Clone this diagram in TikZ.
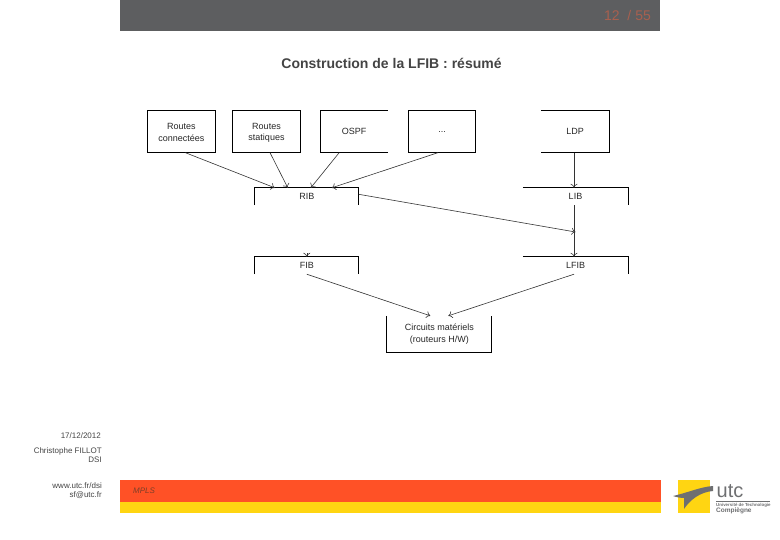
\documentclass[tikz,border=0pt]{standalone}
\usepackage{fontspec}
\setmainfont{Liberation Sans}
\usetikzlibrary{arrows.meta}
\definecolor{barGray}{HTML}{5D5E60}
\definecolor{pageRed}{HTML}{A8604F}
\definecolor{barOrange}{HTML}{FF5126}
\definecolor{barYellow}{HTML}{FFD512}
\definecolor{logoGray}{HTML}{6E6F71}
\definecolor{footGray}{HTML}{444444}
\definecolor{mplsBrown}{HTML}{7E3F28}

\tikzset{
    labelbox/.style={inner sep=0pt, align=center, font=\fontsize{9}{11.5}\selectfont, text=black!85},
    flow/.style={-{To[length=4pt, width=7pt]}, draw=black!80, line width=0.6pt},
    edge/.style={line width=0.9pt},
    foot/.style={anchor=east, inner sep=0pt, font=\fontsize{8}{9}\selectfont, text=footGray}
}

\begin{document}
\begin{tikzpicture}[x=1pt, y=-1pt]
    \useasboundingbox (0,0) rectangle (780,540);

    % Draw the bars
    \fill[barGray] (120,0) rectangle (660,31);
    \fill[barOrange] (120,480) rectangle (661,502);
    \fill[barYellow] (120,502) rectangle (661,513);

    % Place the header and the title
    \node (page) at (627.5,15) [inner sep=0pt, text=pageRed, font=\fontsize{14}{16}\selectfont] {12 \ / 55};
    \node (title) at (391.5,63) [inner sep=0pt, text=footGray, font=\fontsize{14}{16}\selectfont\bfseries] {Construction de la LFIB : résumé};

    % Place the boxes of the upper row
    \node (rconn) at (181.3,131.7) [labelbox, minimum width=68pt, minimum height=41.5pt] {};
    \node (rconntxt) at (181.3,132.6) [labelbox] {Routes\\connectées};
    \node (rstat) at (266.5,131.7) [labelbox, minimum width=68pt, minimum height=41.5pt] {};
    \node (rstattxt) at (266.5,132.8) [labelbox] {Routes\\statiques};
    \node (ospf) at (354.2,131.7) [labelbox, minimum width=67.5pt, minimum height=41.5pt] {OSPF};
    \node (other) at (442,131.7) [labelbox, minimum width=67pt, minimum height=41.5pt] {...};
    \node (ldp) at (575,131.7) [labelbox, minimum width=68pt, minimum height=41.5pt] {LDP};

    % Place the tables
    \node (rib) at (306.8,196.5) [labelbox, minimum width=103.5pt, minimum height=17pt] {RIB};
    \node (lib) at (575.5,196.5) [labelbox, minimum width=105pt, minimum height=17pt] {LIB};
    \node (fib) at (306.8,265.5) [labelbox, minimum width=103.5pt, minimum height=17pt] {FIB};
    \node (lfib) at (575.5,265.5) [labelbox, minimum width=105pt, minimum height=17pt] {LFIB};
    \node (hard) at (439.3,334) [labelbox, minimum width=104.5pt, minimum height=36pt] {Circuits matériels\\(routeurs H/W)};

    % Draw the outlines
    \draw[edge] (rconn.north west) rectangle (rconn.south east);
    \draw[edge] (rstat.north west) rectangle (rstat.south east);
    \draw[edge] (ospf.south east) -- (ospf.south west) -- (ospf.north west) -- (ospf.north east);
    \draw[edge] (other.north west) rectangle (other.south east);
    \draw[edge] (ldp.north west) -- (ldp.north east) -- (ldp.south east) -- (ldp.south west);
    \draw[edge] (rib.south west) -- (rib.north west) -- (rib.north east) -- (rib.south east);
    \draw[edge] (fib.south west) -- (fib.north west) -- (fib.north east) -- (fib.south east);
    \draw[edge] (lib.north west) -- (lib.north east) -- (lib.south east);
    \draw[edge] (lfib.north west) -- (lfib.north east) -- (lfib.south east);
    \draw[edge] (hard.north west) -- (hard.south west) -- (hard.south east) -- (hard.north east);

    % Draw the arrows
    \draw[flow] ([xshift=4pt]rconn.south) -- ([xshift=-32pt]rib.north);
    \draw[flow] ([xshift=3.5pt]rstat.south) -- ([xshift=-19pt]rib.north);
    \draw[flow] ([xshift=-15pt]ospf.south) -- ([xshift=4pt]rib.north);
    \draw[flow] ([xshift=-4pt]other.south) -- ([xshift=25pt]rib.north);
    \draw[flow] ([yshift=-6.5pt]rib.north east) -- (lib.center |- 0,232);
    \draw[flow] ([xshift=-1pt]ldp.south) -- ([xshift=-1.5pt]lib.north);
    \draw[flow] ([xshift=-1.5pt]lib.south) -- ([xshift=-1.5pt]lfib.north);
    \coordinate (fibin) at (306.8,253.5);
    \draw[flow] (fibin) -- (fib.north);
    \draw[flow] (fib.south) -- ([xshift=-9pt]hard.north);
    \draw[flow] ([xshift=-1.5pt]lfib.south) -- ([xshift=9pt]hard.north);

    % Place the footer texts
    \node (date) at (101,436) [foot] {17/12/2012};
    \node (author) at (102,451) [foot] {Christophe FILLOT};
    \node (dept) at (102,460) [foot] {DSI};
    \node (web) at (102,486) [foot] {www.utc.fr/dsi};
    \node (mail) at (102,495) [foot] {sf@utc.fr};
    \node (mpls) at (133,491) [anchor=west, inner sep=0pt, text=mplsBrown, font=\fontsize{8}{9}\selectfont\itshape] {MPLS};

    % Draw the logo
    \fill[barYellow] (678,480) rectangle (710,513);
    \fill[logoGray] (673,496) .. controls (690,492) and (700,487) .. (713,486) -- (713,491)
        .. controls (700,492) and (690,500) .. (684,509) -- (684,498) .. controls (680,498) and (676,497) .. (673,496) -- cycle;
    \node (utc) at (716.5,491) [anchor=west, inner sep=0pt, text=logoGray, font=\fontsize{20}{22}\selectfont] {utc};
    \draw[logoGray, line width=0.3pt] (716,501) -- (770,501);
    \node (univ) at (716,505) [anchor=west, inner sep=0pt, text=logoGray, font=\fontsize{4.4}{5}\selectfont\bfseries] {Université de Technologie};
    \node (comp) at (716,511) [anchor=west, inner sep=0pt, text=logoGray, font=\fontsize{6.5}{7}\selectfont\bfseries] {Compiègne};
\end{tikzpicture}
\end{document}
